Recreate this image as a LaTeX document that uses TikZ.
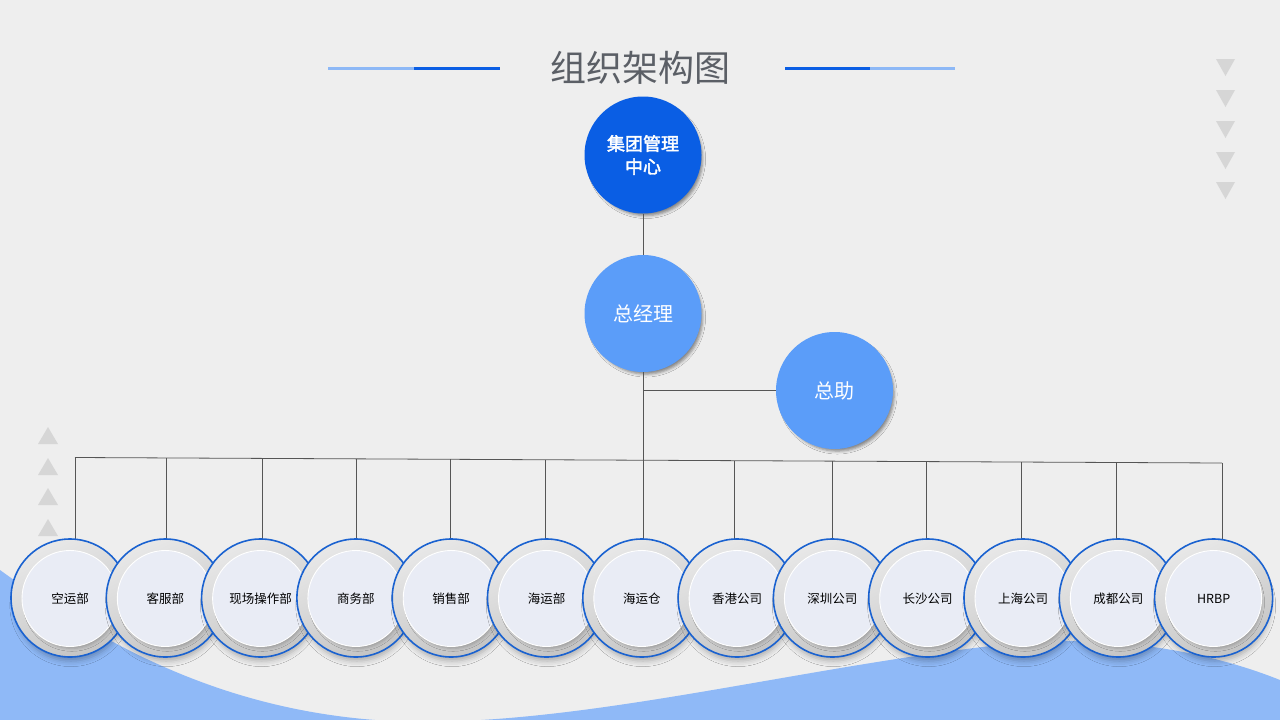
\documentclass[tikz,border=0pt]{standalone}
\usepackage{fontspec}
\newfontfamily\cjk{Noto Sans CJK SC}[AutoFakeBold=2.5]
\usetikzlibrary{shadows.blur}
\definecolor{bg}{HTML}{EEEEEE}
\definecolor{deepblue}{HTML}{0A5EE4}
\definecolor{midblue}{HTML}{5B9DF9}
\definecolor{wave}{HTML}{8FB9F7}
\definecolor{ringblue}{HTML}{1A62D0}
\definecolor{ringL}{HTML}{E8E8E8}
\definecolor{ringD}{HTML}{C4C4C4}
\definecolor{innerfill}{HTML}{E9ECF5}
\definecolor{titlegray}{HTML}{5B5F66}
\definecolor{tri}{HTML}{D6D6D6}
\definecolor{lineg}{HTML}{555555}
\definecolor{lightline}{HTML}{8DB8F6}
\tikzset{
  topnode/.style={circle, minimum size=117pt, inner sep=0pt, fill=deepblue, text=white,
    blur shadow={shadow xshift=3pt, shadow yshift=-4pt, shadow blur radius=3pt, shadow scale=0.97, shadow opacity=45}},
  midnode/.style={circle, minimum size=117pt, inner sep=0pt, fill=midblue, text=white,
    font=\cjk\fontsize{20}{24}\selectfont,
    blur shadow={shadow xshift=3pt, shadow yshift=-4pt, shadow blur radius=3pt, shadow scale=0.97, shadow opacity=45}},
  outerc/.style={circle, minimum size=118pt, inner sep=0pt, draw=ringblue, line width=1.6pt,
    top color=ringL, bottom color=ringD, shading angle=25,
    blur shadow={shadow xshift=1pt, shadow yshift=-8pt, shadow blur radius=6pt, shadow scale=0.94, shadow opacity=28}},
  innerc/.style={circle, minimum size=96pt, inner sep=0pt, fill=innerfill, draw=white, line width=0.9pt,
    font=\cjk\fontsize{12.5}{14}\selectfont, text=black,
    blur shadow={shadow xshift=2pt, shadow yshift=-4pt, shadow blur radius=3pt, shadow scale=0.96, shadow opacity=22}},
  conn/.style={draw=lineg, line width=0.8pt},
  triangle/.style={fill=tri},
}
\begin{document}
\begin{tikzpicture}[x=1pt,y=-1pt]
\useasboundingbox (0,0) rectangle (1280,720);
\fill[bg] (0,0) rectangle (1280,720);
% wave
\fill[wave] (0,570) .. controls (110,650) and (230,712) .. (390,721)
  .. controls (580,730) and (820,660) .. (1040,641)
  .. controls (1150,638) and (1230,660) .. (1280,680) -- (1280,720) -- (0,720) -- cycle;
% title
\node[font=\cjk\fontsize{36}{40}\selectfont, text=titlegray] (title) at (640,68) {组织架构图};
\draw[lightline, line width=3pt] (328,68) -- (414,68);
\draw[deepblue, line width=3pt] (414,68) -- (500,68);
\draw[deepblue, line width=3pt] (785,68) -- (870,68);
\draw[lightline, line width=3pt] (870,68) -- (955,68);
% triangles right (down)
\foreach \ty in {59,90,121,152,182}
  \fill[triangle] (1216,\ty) -- (1235,\ty) -- (1225.5,\ty+17) -- cycle;
% triangles left (up)
\foreach \ty in {444,475,505,536}
  \fill[triangle] (38,\ty) -- (58,\ty) -- (48,\ty-17) -- cycle;
% top nodes
\node[topnode, font=\cjk\bfseries\fontsize{18}{23}\selectfont, align=center] (top) at (643,155) {集团管理\\中心};
\node[midnode] (gm) at (643,313.5) {总经理};
\node[midnode] (ah) at (834.5,390.5) {总助};
% connectors upper
\draw[conn] (top.south) -- (gm.north);
\coordinate (busL) at (75,457.5);
\coordinate (busR) at (1222,463);
\coordinate (busM) at (643,460.2);
\draw[conn] (busL) -- (busR);
\draw[conn] (gm.south) -- (busM);
\coordinate (br) at (643,390.5);
\draw[conn] (br) -- (ah.west);
% drop lines to the bottom circles
\foreach \xb [count=\i from 0] in {75,166,262,356,450,545,643,734,832,926,1021,1116,1222} {
  \pgfmathsetmacro\yb{457.5+5.5*(\xb-75)/1147}
  \coordinate (t\i) at (\xb,\yb);
  \coordinate (s\i) at (\xb,545);
  \draw[conn] (t\i) -- (s\i);
}
% bottom circles
\foreach \lab [count=\i from 0] in {空运部,客服部,现场操作部,商务部,销售部,海运部,海运仓,香港公司,深圳公司,长沙公司,上海公司,成都公司,HRBP} {
  \pgfmathsetmacro\cx{70+95.3*\i}
  \node[outerc] (o\i) at (\cx,598) {};
  \node[innerc] (c\i) at (\cx,598.5) {\lab};
}
\end{tikzpicture}
\end{document}
